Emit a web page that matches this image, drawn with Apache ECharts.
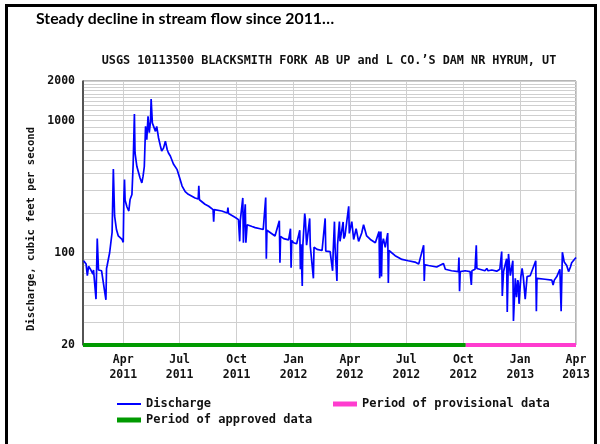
<!DOCTYPE html>
<html><head><meta charset="utf-8">
<script src="https://cdn.jsdelivr.net/npm/echarts@6/dist/echarts.min.js"></script>
<style>html,body{margin:0;padding:0;background:#fff}#c{width:600px;height:444px}</style>
</head><body><div id="c"></div>
<script>
// Day offsets counted from 2011-01-26 (left edge of the plot)
const startDate = '2011-01-26';
const endDate = '2013-04-01';
const flowDay = [1,5,7,9,12,16,17,21,23,25,30,33,37,38,39,43,47,49,51,54,57,63,65,66,67,68,71,74,76,79,81,83,84,87,90,92,95,97,99,101,103,105,107,109,110,112,114,117,119,122,125,127,130,133,136,138,141,146,152,156,
160,165,170,181,186,187,188,189,197,203,210,211,212,214,224,233,234,235,246,251,253,254,258,259,260,262,263,265,273,278,286,291,295,296,297,300,310,
313,317,318,319,324,332,335,336,337,340,345,350,351,352,354,355,358,359,361,366,367,370,372,373,378,386,391,392,394,399,403,404,406,407,410,411,414,415,420,421,423,429,430,431,434,437,441,445,450,453,458,464,
472,478,479,480,481,482,483,485,488,492,493,494,496,504,515,525,536,542,550,551,552,558,571,582,585,595,606,607,608,609,617,
625,627,628,633,635,636,638,649,652,654,660,668,673,676,677,679,684,685,687,690,694,695,698,700,702,703,704,707,709,711,714,717,722,731,732,733,735,746,757,759,761,765,770,772,774,777,781,784,787,789,792,796];
const flowCfs = [87,82,67,79,75,69,74,44.5,128,74,73,75,44,76,80,100,143,430,190,150,134,126,120,260,358,250,222,207,253,276,470,1125,570,450,400,370,338,380,450,906,718,1080,812,990,1460,960,906,830,906,740,643,590,620,700,603,570,540,470,426,370,
320,290,277,260,255,322,252,245,233,225,212,172,212,215,207,200,220,198,185,178,122,176,260,119,170,233,119,163,158,155,152,150,262,90,148,145,134,
134,175,84,133,128,125,152,77,124,119,117,148,75,116,56,115,198,180,114,182,112,110,64,110,106,104,182,103,101,102,73,103,172,110,61,115,172,122,171,128,134,225,140,141,172,126,152,122,141,163,134,126,
119,145,64,118,145,66,115,128,110,141,59,104,101,95,89,87,85,82,114,61,81,80,78,83,75,73,72,92,51,72,73,
72,57,73,75,114,76,74,73,76,73,74,72.5,75,102,47,72,90,35.5,98,67,87,30.4,64,46,62,59,41,66,76,65,44.5,66,67,87,36,64,64,63,62,57,62,66,75,36,101,85,80,72,78,84,86,92];
const approvedRange = ['2011-01-26', '2012-10-05'];
const provisionalRange = ['2012-10-05', '2013-04-01'];
const xTickDates = ['2011-04-01','2011-07-01','2011-10-01','2012-01-01','2012-04-01','2012-07-01','2012-10-01','2013-01-01','2013-04-01'];
const xTickLabels = ['Apr\n2011','Jul\n2011','Oct\n2011','Jan\n2012','Apr\n2012','Jul\n2012','Oct\n2012','Jan\n2013','Apr\n2013'];
const yTickLabels = [20, 100, 1000, 2000];
const yGridValues = [20,30,40,50,60,70,80,90,100,200,300,400,500,600,700,800,900,1000,1100,1200,1300,1400,1500,1600,1700,1800,1900,2000];
const yMin = 20, yMax = 2000;

const DAY = 86400000;
const ts = s => { const p = s.split('-').map(Number); return Date.UTC(p[0], p[1]-1, p[2]); };
const base = ts(startDate);
const flowData = flowDay.map((d, i) => [base + d * DAY, flowCfs[i]]);
const xTickTimes = xTickDates.map(ts);
const MONO = "'DejaVu Sans Mono', monospace";
const legendText = {fontFamily: MONO, fontWeight: 'bold', fontSize: 12, color: '#111'};

const chart = echarts.init(document.getElementById('c'), null, {renderer: 'canvas'});
chart.setOption({
  animation: false,
  backgroundColor: '#ffffff',
  grid: {left: 83, top: 81, width: 493, height: 264, show: true, borderColor: '#6a6a6a', borderWidth: 1, backgroundColor: 'transparent'},
  xAxis: {
    type: 'value', min: ts(startDate), max: ts(endDate), scale: true,
    axisLine: {show: false},
    axisTick: {show: false, customValues: xTickTimes},
    axisLabel: {
      customValues: xTickTimes,
      formatter: v => { const i = xTickTimes.indexOf(v); return i >= 0 ? xTickLabels[i] : ''; },
      fontFamily: MONO, fontWeight: 'bold', fontSize: 11.5, color: '#111', lineHeight: 15, margin: 8,
      hideOverlap: false, showMinLabel: true, showMaxLabel: true
    },
    splitLine: {show: true, lineStyle: {color: '#cfcfcf', width: 1}}
  },
  yAxis: {
    type: 'log', logBase: 10, min: yMin, max: yMax,
    axisLine: {show: true, lineStyle: {color: '#333', width: 1.5}},
    axisTick: {show: false, customValues: yGridValues},
    axisLabel: {
      customValues: yTickLabels,
      formatter: v => String(Math.round(v)),
      fontFamily: MONO, fontWeight: 'bold', fontSize: 11.5, color: '#111', margin: 8
    },
    splitLine: {show: true, lineStyle: {color: '#cfcfcf', width: 1}},
    name: 'Discharge, cubic feet per second', nameLocation: 'middle', nameGap: 41,
    nameTextStyle: {fontFamily: MONO, fontWeight: 'bold', fontSize: 10.6, color: '#111', padding: [0, 32, 0, 0]}
  },
  legend: [
    {data: [{name: 'Discharge'}], left: 117, top: 398, padding: 0, icon: 'rect', itemWidth: 24, itemHeight: 2, textStyle: legendText},
    {data: [{name: 'Period of approved data'}], left: 117, top: 414, padding: 0, icon: 'rect', itemWidth: 24, itemHeight: 5, textStyle: legendText},
    {data: [{name: 'Period of provisional data'}], left: 333, top: 398, padding: 0, icon: 'rect', itemWidth: 24, itemHeight: 5, textStyle: legendText}
  ],
  graphic: [
    {type: 'rect', shape: {x: 6.5, y: 5.5, width: 589, height: 470}, style: {fill: 'none', stroke: '#000', lineWidth: 3}, silent: true},
    {type: 'text', x: 36, y: 19, style: {text: 'Steady decline in stream flow since 2011…', fontFamily: "Lato, sans-serif", fontWeight: 'bold', fontSize: 15.8, fill: '#000', verticalAlign: 'middle'}},
    {type: 'text', x: 329, y: 61, style: {text: 'USGS 10113500 BLACKSMITH FORK AB UP and L CO.’S DAM NR HYRUM, UT', fontFamily: MONO, fontWeight: 'bold', fontSize: 11.8, fill: '#111', align: 'center', verticalAlign: 'middle'}}
  ],
  series: [
    {name: 'Discharge', type: 'line', data: flowData, showSymbol: false, symbol: 'none', color: '#0000ff',
     lineStyle: {color: '#0000ff', width: 1.7}, z: 3},
    {name: 'Period of approved data', type: 'line', data: approvedRange.map(s => [ts(s), yMin]), showSymbol: false, symbol: 'none', color: '#009a00',
     lineStyle: {color: '#009a00', width: 4}, clip: false, z: 5},
    {name: 'Period of provisional data', type: 'line', data: provisionalRange.map(s => [ts(s), yMin]), showSymbol: false, symbol: 'none', color: '#ff3ccf',
     lineStyle: {color: '#ff3ccf', width: 4}, clip: false, z: 5}
  ]
});
</script></body></html>
